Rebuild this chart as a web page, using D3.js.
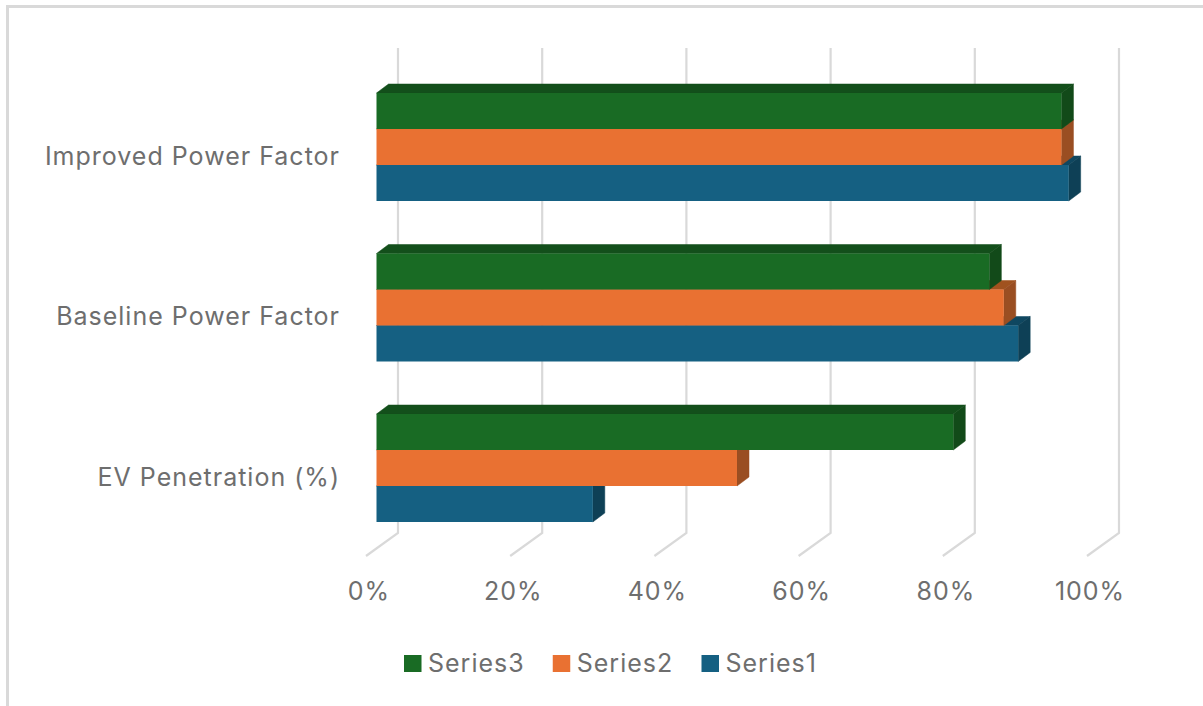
<!DOCTYPE html>
<html>
<head>
<meta charset="utf-8">
<script src="https://cdn.jsdelivr.net/npm/d3@7"></script>
<style>
  html, body { margin: 0; padding: 0; background: #fff; }
  svg { display: block; }
  text { font-family: Inter, sans-serif; fill: #6e6e6e; letter-spacing: 1px; }
</style>
</head>
<body>
<svg id="chart" width="1203" height="706"></svg>
<script>
const categories = ["Improved Power Factor", "Baseline Power Factor", "EV Penetration (%)"];
const seriesNames = ["Series3", "Series2", "Series1"];
const series3 = [95, 85, 80];
const series2 = [95, 87, 50];
const series1 = [96, 89, 30];
const tickValues = [0, 20, 40, 60, 80, 100];
const faceColors = ["#196b24", "#e97132", "#156082"];
const topColors = ["#134f1b", "#a0521f", "#0f4760"];
const sideColors = ["#124a19", "#9a4e22", "#0e4056"];

const fontSize = 25;
const labelStyle = "font-family:Inter,sans-serif;letter-spacing:1px";
const seriesValues = [series3, series2, series1];
const svg = d3.select("#chart");

const x = d3.scaleLinear().domain([0, 100]).range([376.5, 1097.5]);
const y = d3.scaleBand().domain(categories).range([66.75, 548.25]);
const ySeries = d3.scaleBand().domain(seriesNames).range([26.25, 134.25]);

// Depth of the bars and of the chart's wall and floor
const barDx = 12, barDy = 9;
const wallDx = 21.5, floorDx = -10.5, wallTop = 48, wallBottom = 533, floorBottom = 556;

// Outer frame, visible along the top and left edges
svg.append("path")
  .attr("d", d3.line()([[7.5, 706], [7.5, 6.5], [1203, 6.5]]))
  .attr("fill", "none").attr("stroke", "#d9d9d9").attr("stroke-width", 3);

// Gridlines on the back wall, bending forward across the floor
svg.append("g").selectAll("path").data(tickValues).join("path")
  .attr("d", v => d3.line()([
    [x(v) + wallDx, wallTop],
    [x(v) + wallDx, wallBottom],
    [x(v) + floorDx, floorBottom]
  ]))
  .attr("fill", "none").attr("stroke", "#d9d9d9").attr("stroke-width", 2.2);

// Value axis labels
const xAxis = d3.axisBottom(x).tickValues(tickValues).tickSize(0).tickPadding(0).tickFormat(d => d + "%");
const xAxisG = svg.append("g").attr("transform", "translate(-8,582)").call(xAxis);
xAxisG.select(".domain").remove();
xAxisG.selectAll("text").attr("font-size", fontSize).attr("style", labelStyle);

// Category labels
const yAxis = d3.axisLeft(y).tickSize(0).tickPadding(0);
const yAxisG = svg.append("g").attr("transform", "translate(340,9.5)").call(yAxis);
yAxisG.select(".domain").remove();
yAxisG.selectAll("text").attr("font-size", fontSize).attr("style", labelStyle);

// Bars are painted bottom to top within each group so upper bars overlap the depth of lower ones
categories.forEach((cat, c) => {
  const group = svg.append("g").attr("transform", `translate(0,${y(cat)})`);
  [2, 1, 0].forEach(s => {
    const x0 = x(0), x1 = x(seriesValues[s][c]);
    const y0 = ySeries(seriesNames[s]), y1 = y0 + ySeries.bandwidth();
    const bar = group.append("g");
    bar.append("path")
      .attr("d", d3.line()([[x0, y0], [x0 + barDx, y0 - barDy], [x1 + barDx, y0 - barDy], [x1, y0]]) + "Z")
      .attr("fill", topColors[s]).attr("stroke", topColors[s]).attr("stroke-width", 0.5);
    bar.append("path")
      .attr("d", d3.line()([[x1, y0], [x1 + barDx, y0 - barDy], [x1 + barDx, y1 - barDy], [x1, y1]]) + "Z")
      .attr("fill", sideColors[s]).attr("stroke", sideColors[s]).attr("stroke-width", 0.5);
    bar.append("rect")
      .attr("x", x0).attr("y", y0)
      .attr("width", x1 - x0).attr("height", y1 - y0)
      .attr("fill", faceColors[s]);
  });
});

// Legend
const legendX = d3.scalePoint().domain(seriesNames).range([404, 701.5]);
const legend = svg.append("g").selectAll("g").data(seriesNames).join("g")
  .attr("transform", d => `translate(${legendX(d)},655)`);
legend.append("rect").attr("width", 17.5).attr("height", 17)
  .attr("fill", (d, i) => faceColors[i]);
legend.append("text").attr("x", 24).attr("y", 16.5)
  .attr("font-size", fontSize).text(d => d);
</script>
</body>
</html>
